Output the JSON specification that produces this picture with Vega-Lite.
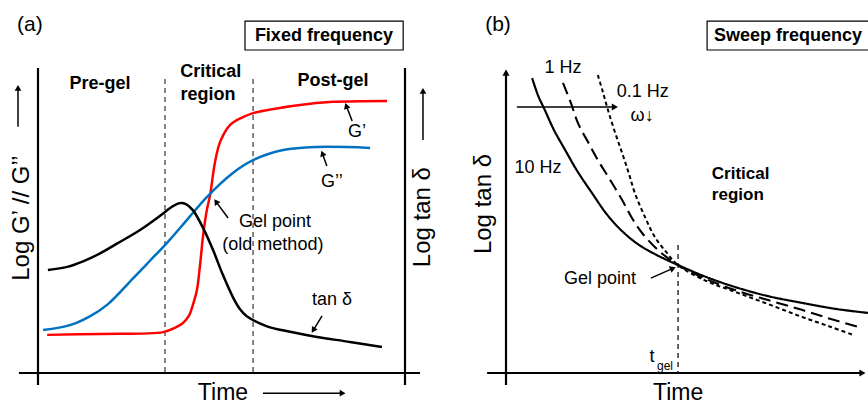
{
  "$schema": "https://vega.github.io/schema/vega-lite/v6.json",
  "padding": 0,
  "spacing": 0,
  "background": "white",
  "config": {"view": {"stroke": null}, "font": "Liberation Sans", "text": {"font": "Liberation Sans"}},
  "datasets": {
    "curvesA": [
      {"series": "G'", "t": 0.25, "v": 1.25}, {"series": "G'", "t": 1.69, "v": 1.28}, {"series": "G'", "t": 3.41, "v": 1.34},
      {"series": "G'", "t": 3.73, "v": 1.48}, {"series": "G'", "t": 3.95, "v": 1.64}, {"series": "G'", "t": 4.11, "v": 1.87},
      {"series": "G'", "t": 4.22, "v": 2.23}, {"series": "G'", "t": 4.33, "v": 2.72}, {"series": "G'", "t": 4.41, "v": 3.48},
      {"series": "G'", "t": 4.5, "v": 4.52}, {"series": "G'", "t": 4.6, "v": 5.34}, {"series": "G'", "t": 4.69, "v": 5.84},
      {"series": "G'", "t": 4.82, "v": 6.89}, {"series": "G'", "t": 4.96, "v": 7.57}, {"series": "G'", "t": 5.23, "v": 8.13},
      {"series": "G'", "t": 5.59, "v": 8.39}, {"series": "G'", "t": 5.86, "v": 8.52}, {"series": "G'", "t": 7.14, "v": 8.79},
      {"series": "G'", "t": 8.04, "v": 8.89}, {"series": "G'", "t": 9.51, "v": 8.92},
      {"series": "G''", "t": 0.14, "v": 1.41}, {"series": "G''", "t": 0.87, "v": 1.57}, {"series": "G''", "t": 1.4, "v": 1.85},
      {"series": "G''", "t": 1.9, "v": 2.25}, {"series": "G''", "t": 2.59, "v": 3.1}, {"series": "G''", "t": 3.05, "v": 3.68},
      {"series": "G''", "t": 3.51, "v": 4.26}, {"series": "G''", "t": 4.06, "v": 5.02}, {"series": "G''", "t": 4.6, "v": 5.77},
      {"series": "G''", "t": 5.31, "v": 6.56}, {"series": "G''", "t": 5.86, "v": 6.98}, {"series": "G''", "t": 6.68, "v": 7.31},
      {"series": "G''", "t": 7.6, "v": 7.41}, {"series": "G''", "t": 9.05, "v": 7.38},
      {"series": "tan", "t": 0.27, "v": 3.38}, {"series": "tan", "t": 0.8, "v": 3.48}, {"series": "tan", "t": 1.23, "v": 3.66},
      {"series": "tan", "t": 1.69, "v": 3.92}, {"series": "tan", "t": 2.15, "v": 4.24}, {"series": "tan", "t": 2.78, "v": 4.69},
      {"series": "tan", "t": 3.32, "v": 5.15}, {"series": "tan", "t": 3.65, "v": 5.45}, {"series": "tan", "t": 3.87, "v": 5.57},
      {"series": "tan", "t": 4.03, "v": 5.54}, {"series": "tan", "t": 4.22, "v": 5.34}, {"series": "tan", "t": 4.5, "v": 4.75},
      {"series": "tan", "t": 4.77, "v": 4.03}, {"series": "tan", "t": 5.04, "v": 3.21}, {"series": "tan", "t": 5.31, "v": 2.49},
      {"series": "tan", "t": 5.5, "v": 2.1}, {"series": "tan", "t": 5.69, "v": 1.86}, {"series": "tan", "t": 6.24, "v": 1.53},
      {"series": "tan", "t": 6.87, "v": 1.35}, {"series": "tan", "t": 7.6, "v": 1.18}, {"series": "tan", "t": 8.5, "v": 1.02},
      {"series": "tan", "t": 9.37, "v": 0.85}
    ],
    "curvesB": [
      {"series": "10 Hz", "t": 0.72, "v": 9.67}, {"series": "10 Hz", "t": 0.88, "v": 9.11}, {"series": "10 Hz", "t": 1.07, "v": 8.62},
      {"series": "10 Hz", "t": 1.32, "v": 7.97}, {"series": "10 Hz", "t": 1.63, "v": 7.31}, {"series": "10 Hz", "t": 1.98, "v": 6.59},
      {"series": "10 Hz", "t": 2.37, "v": 5.9}, {"series": "10 Hz", "t": 2.78, "v": 5.2}, {"series": "10 Hz", "t": 3.2, "v": 4.65},
      {"series": "10 Hz", "t": 3.64, "v": 4.22}, {"series": "10 Hz", "t": 4.1, "v": 3.9}, {"series": "10 Hz", "t": 4.74, "v": 3.54},
      {"series": "10 Hz", "t": 5.51, "v": 3.15}, {"series": "10 Hz", "t": 6.31, "v": 2.82}, {"series": "10 Hz", "t": 7.22, "v": 2.52},
      {"series": "10 Hz", "t": 8.15, "v": 2.3}, {"series": "10 Hz", "t": 9.09, "v": 2.1}, {"series": "10 Hz", "t": 9.97, "v": 1.97},
      {"series": "1 Hz", "t": 1.57, "v": 9.51}, {"series": "1 Hz", "t": 1.79, "v": 8.85}, {"series": "1 Hz", "t": 1.98, "v": 8.2},
      {"series": "1 Hz", "t": 2.26, "v": 7.57}, {"series": "1 Hz", "t": 2.53, "v": 6.98}, {"series": "1 Hz", "t": 2.87, "v": 6.33},
      {"series": "1 Hz", "t": 3.2, "v": 5.67}, {"series": "1 Hz", "t": 3.47, "v": 5.08}, {"series": "1 Hz", "t": 3.75, "v": 4.59},
      {"series": "1 Hz", "t": 4.19, "v": 4.03}, {"series": "1 Hz", "t": 4.74, "v": 3.54}, {"series": "1 Hz", "t": 5.51, "v": 3.08},
      {"series": "1 Hz", "t": 6.31, "v": 2.72}, {"series": "1 Hz", "t": 7.22, "v": 2.39}, {"series": "1 Hz", "t": 8.15, "v": 2.07},
      {"series": "1 Hz", "t": 8.95, "v": 1.77}, {"series": "1 Hz", "t": 9.7, "v": 1.51},
      {"series": "0.1 Hz", "t": 2.53, "v": 9.77}, {"series": "0.1 Hz", "t": 2.67, "v": 9.21}, {"series": "0.1 Hz", "t": 2.81, "v": 8.62},
      {"series": "0.1 Hz", "t": 3.0, "v": 7.9}, {"series": "0.1 Hz", "t": 3.2, "v": 7.21}, {"series": "0.1 Hz", "t": 3.39, "v": 6.52},
      {"series": "0.1 Hz", "t": 3.55, "v": 5.9}, {"series": "0.1 Hz", "t": 3.83, "v": 5.11}, {"series": "0.1 Hz", "t": 4.1, "v": 4.46},
      {"series": "0.1 Hz", "t": 4.41, "v": 3.97}, {"series": "0.1 Hz", "t": 4.74, "v": 3.54}, {"series": "0.1 Hz", "t": 5.51, "v": 3.02},
      {"series": "0.1 Hz", "t": 6.31, "v": 2.66}, {"series": "0.1 Hz", "t": 7.22, "v": 2.26}, {"series": "0.1 Hz", "t": 8.15, "v": 1.84},
      {"series": "0.1 Hz", "t": 8.95, "v": 1.51}, {"series": "0.1 Hz", "t": 9.56, "v": 1.25}
    ],
    "segA": [
      {"kind": "axis", "t": 0, "v": 10, "t2": 0, "v2": -0.39},
      {"kind": "axis", "t": 10, "v": 10, "t2": 10, "v2": -0.39},
      {"kind": "axis", "t": -0.52, "v": 0, "t2": 10.41, "v2": 0},
      {"kind": "dash", "t": 3.46, "v": 9.64, "t2": 3.46, "v2": 0},
      {"kind": "dash", "t": 5.86, "v": 9.64, "t2": 5.86, "v2": 0}
    ],
    "arrowsA": [
      {"name": "G'", "t": 8.56, "v": 8.26, "t2": 8.4, "v2": 8.76, "heading": -19},
      {"name": "G''", "t": 7.87, "v": 6.79, "t2": 7.75, "v2": 7.2, "heading": -20},
      {"name": "gel", "t": 5.18, "v": 5.08, "t2": 4.85, "v2": 5.62, "heading": -35},
      {"name": "tan", "t": 7.74, "v": 1.87, "t2": 7.5, "v2": 1.4, "heading": 212},
      {"name": "time", "t": 6.13, "v": -0.66, "t2": 8.3, "v2": -0.66, "heading": 90},
      {"name": "left", "t": -0.545, "v": 8.07, "t2": -0.545, "v2": 9.35, "heading": 0},
      {"name": "right", "t": 10.49, "v": 7.64, "t2": 10.49, "v2": 9.25, "heading": 0}
    ],
    "boxA": [{"t": 5.64, "v": 11.54, "t2": 9.95, "v2": 10.59}],
    "textA": [
      {"kind": "panel", "label": "(a)", "t": -0.22, "v": 11.41},
      {"kind": "bold", "label": "Fixed frequency", "t": 7.79, "v": 11.05},
      {"kind": "bold", "label": "Pre-gel", "t": 1.69, "v": 9.48},
      {"kind": "bold", "label": "Critical", "t": 4.71, "v": 9.87},
      {"kind": "bold", "label": "region", "t": 4.63, "v": 9.11},
      {"kind": "bold", "label": "Post-gel", "t": 8.04, "v": 9.57},
      {"kind": "note", "label": "G’", "t": 8.69, "v": 7.9},
      {"kind": "note", "label": "G’’", "t": 8.01, "v": 6.26},
      {"kind": "note", "label": "Gel point", "t": 6.46, "v": 4.95},
      {"kind": "note", "label": "(old method)", "t": 6.4, "v": 4.2},
      {"kind": "note", "label": "tan δ", "t": 8.01, "v": 2.39},
      {"kind": "axis", "label": "Time", "t": 5.04, "v": -0.87},
      {"kind": "ylabel", "label": "Log G’ // G’’", "t": -0.44, "v": 5.08},
      {"kind": "ylabel", "label": "Log tan δ", "t": 10.49, "v": 5.11}
    ],
    "segB": [
      {"kind": "dash", "t": 4.74, "v": 4.2, "t2": 4.74, "v2": 0}
    ],
    "arrowsB": [
      {"name": "yaxis", "t": 0, "v": -0.39, "t2": 0, "v2": 9.85, "heading": 0, "w": "axis"},
      {"name": "xaxis", "t": -0.52, "v": 0, "t2": 9.82, "v2": 0, "heading": 90, "w": "axis"},
      {"name": "omega", "t": 0.3, "v": 8.72, "t2": 3.0, "v2": 8.72, "heading": 90, "w": "note"},
      {"name": "gel", "t": 3.99, "v": 3.11, "t2": 4.6, "v2": 3.43, "heading": 67, "w": "note"}
    ],
    "boxB": [{"t": 5.54, "v": 11.54, "t2": 10.1, "v2": 10.59}],
    "textB": [
      {"kind": "panel", "label": "(b)", "t": -0.22, "v": 11.41},
      {"kind": "bold", "label": "Sweep frequency", "t": 7.77, "v": 11.05},
      {"kind": "ylabel", "label": "Log tan δ", "t": -0.61, "v": 5.54},
      {"kind": "note", "label": "1 Hz", "t": 1.57, "v": 10.0},
      {"kind": "note", "label": "0.1 Hz", "t": 3.77, "v": 9.21},
      {"kind": "note", "label": "ω↓", "t": 3.75, "v": 8.43},
      {"kind": "note", "label": "10 Hz", "t": 0.88, "v": 6.72},
      {"kind": "note", "label": "Gel point", "t": 2.59, "v": 3.08},
      {"kind": "note", "label": "t", "t": 4.02, "v": 0.52},
      {"kind": "sub", "label": "gel", "t": 4.38, "v": 0.23},
      {"kind": "axis", "label": "Time", "t": 4.74, "v": -0.87},
      {"kind": "boldleft", "label": "Critical", "t": 5.67, "v": 6.52},
      {"kind": "boldleft", "label": "region", "t": 5.67, "v": 5.84}
    ]
  },
  "hconcat": [
    {
      "width": 434,
      "height": 403,
      "layer": [
        {
          "data": {"name": "boxA"},
          "mark": {"type": "rect", "fill": "white", "stroke": "black", "strokeWidth": 1.2},
          "encoding": {
            "x": {"field": "t", "type": "quantitative", "scale": {"domain": [0, 10], "range": [38, 405], "nice": false, "zero": false}, "axis": null},
            "x2": {"field": "t2"},
            "y": {"field": "v", "type": "quantitative", "scale": {"domain": [0, 10], "range": [373, 68], "nice": false, "zero": false}, "axis": null},
            "y2": {"field": "v2"}
          }
        },
        {
          "data": {"name": "segA"},
          "transform": [{"filter": "datum.kind == 'axis'"}],
          "mark": {"type": "rule", "color": "black", "strokeWidth": 2.2},
          "encoding": {
            "x": {"field": "t", "type": "quantitative", "scale": {"domain": [0, 10], "range": [38, 405], "nice": false, "zero": false}, "axis": null},
            "x2": {"field": "t2"},
            "y": {"field": "v", "type": "quantitative", "scale": {"domain": [0, 10], "range": [373, 68], "nice": false, "zero": false}, "axis": null},
            "y2": {"field": "v2"}
          }
        },
        {
          "data": {"name": "segA"},
          "transform": [{"filter": "datum.kind == 'dash'"}],
          "mark": {"type": "rule", "color": "#444444", "strokeWidth": 1.3, "strokeDash": [5, 4]},
          "encoding": {
            "x": {"field": "t", "type": "quantitative"},
            "x2": {"field": "t2"},
            "y": {"field": "v", "type": "quantitative"},
            "y2": {"field": "v2"}
          }
        },
        {
          "data": {"name": "curvesA"},
          "mark": {"type": "line", "strokeWidth": 2.5, "interpolate": "catmull-rom"},
          "encoding": {
            "x": {"field": "t", "type": "quantitative"},
            "y": {"field": "v", "type": "quantitative"},
            "color": {"field": "series", "type": "nominal", "scale": {"domain": ["tan", "G''", "G'"], "range": ["#000000", "#0070C0", "#FF0000"]}, "legend": null},
            "order": {"field": "t", "type": "quantitative"}
          }
        },
        {
          "data": {"name": "arrowsA"},
          "mark": {"type": "rule", "color": "black", "strokeWidth": 1.5},
          "encoding": {
            "x": {"field": "t", "type": "quantitative"},
            "x2": {"field": "t2"},
            "y": {"field": "v", "type": "quantitative"},
            "y2": {"field": "v2"}
          }
        },
        {
          "data": {"name": "arrowsA"},
          "mark": {"type": "point", "shape": "triangle-up", "filled": true, "color": "black", "size": 45, "opacity": 1},
          "encoding": {
            "x": {"field": "t2", "type": "quantitative"},
            "y": {"field": "v2", "type": "quantitative"},
            "angle": {"field": "heading", "type": "quantitative", "scale": null}
          }
        },
        {
          "data": {"name": "textA"},
          "transform": [{"filter": "datum.kind == 'panel'"}],
          "mark": {"type": "text", "fontSize": 21, "align": "center", "baseline": "middle", "color": "black"},
          "encoding": {"x": {"field": "t", "type": "quantitative"}, "y": {"field": "v", "type": "quantitative"}, "text": {"field": "label"}}
        },
        {
          "data": {"name": "textA"},
          "transform": [{"filter": "datum.kind == 'bold'"}],
          "mark": {"type": "text", "fontSize": 18, "fontWeight": "bold", "align": "center", "baseline": "middle", "color": "black"},
          "encoding": {"x": {"field": "t", "type": "quantitative"}, "y": {"field": "v", "type": "quantitative"}, "text": {"field": "label"}}
        },
        {
          "data": {"name": "textA"},
          "transform": [{"filter": "datum.kind == 'note'"}],
          "mark": {"type": "text", "fontSize": 18, "align": "center", "baseline": "middle", "color": "black"},
          "encoding": {"x": {"field": "t", "type": "quantitative"}, "y": {"field": "v", "type": "quantitative"}, "text": {"field": "label"}}
        },
        {
          "data": {"name": "textA"},
          "transform": [{"filter": "datum.kind == 'axis'"}],
          "mark": {"type": "text", "fontSize": 23, "align": "center", "baseline": "alphabetic", "color": "black"},
          "encoding": {"x": {"field": "t", "type": "quantitative"}, "y": {"field": "v", "type": "quantitative"}, "text": {"field": "label"}}
        },
        {
          "data": {"name": "textA"},
          "transform": [{"filter": "datum.kind == 'ylabel'"}],
          "mark": {"type": "text", "fontSize": 24, "angle": 270, "align": "center", "baseline": "middle", "color": "black"},
          "encoding": {"x": {"field": "t", "type": "quantitative"}, "y": {"field": "v", "type": "quantitative"}, "text": {"field": "label"}}
        }
      ]
    },
    {
      "width": 434,
      "height": 403,
      "layer": [
        {
          "data": {"name": "boxB"},
          "mark": {"type": "rect", "fill": "white", "stroke": "black", "strokeWidth": 1.2},
          "encoding": {
            "x": {"field": "t", "type": "quantitative", "scale": {"domain": [0, 10], "range": [71, 434], "nice": false, "zero": false}, "axis": null},
            "x2": {"field": "t2"},
            "y": {"field": "v", "type": "quantitative", "scale": {"domain": [0, 10], "range": [373, 68], "nice": false, "zero": false}, "axis": null},
            "y2": {"field": "v2"}
          }
        },
        {
          "data": {"name": "segB"},
          "mark": {"type": "rule", "color": "#222222", "strokeWidth": 1.4, "strokeDash": [5, 4]},
          "encoding": {
            "x": {"field": "t", "type": "quantitative"},
            "x2": {"field": "t2"},
            "y": {"field": "v", "type": "quantitative"},
            "y2": {"field": "v2"}
          }
        },
        {
          "data": {"name": "curvesB"},
          "mark": {"type": "line", "color": "black", "interpolate": "catmull-rom"},
          "encoding": {
            "x": {"field": "t", "type": "quantitative"},
            "y": {"field": "v", "type": "quantitative"},
            "detail": {"field": "series", "type": "nominal"},
            "strokeDash": {"field": "series", "type": "nominal", "scale": {"domain": ["10 Hz", "1 Hz", "0.1 Hz"], "range": [[1, 0], [12, 6], [4, 3]]}, "legend": null},
            "strokeWidth": {"field": "series", "type": "nominal", "scale": {"domain": ["10 Hz", "1 Hz", "0.1 Hz"], "range": [2.2, 2, 1.8]}, "legend": null},
            "order": {"field": "t", "type": "quantitative"}
          }
        },
        {
          "data": {"name": "arrowsB"},
          "transform": [{"filter": "datum.w == 'axis'"}],
          "mark": {"type": "rule", "color": "black", "strokeWidth": 2.2},
          "encoding": {
            "x": {"field": "t", "type": "quantitative"},
            "x2": {"field": "t2"},
            "y": {"field": "v", "type": "quantitative"},
            "y2": {"field": "v2"}
          }
        },
        {
          "data": {"name": "arrowsB"},
          "transform": [{"filter": "datum.w == 'note'"}],
          "mark": {"type": "rule", "color": "black", "strokeWidth": 1.5},
          "encoding": {
            "x": {"field": "t", "type": "quantitative"},
            "x2": {"field": "t2"},
            "y": {"field": "v", "type": "quantitative"},
            "y2": {"field": "v2"}
          }
        },
        {
          "data": {"name": "arrowsB"},
          "mark": {"type": "point", "shape": "triangle-up", "filled": true, "color": "black", "size": 50, "opacity": 1},
          "encoding": {
            "x": {"field": "t2", "type": "quantitative"},
            "y": {"field": "v2", "type": "quantitative"},
            "angle": {"field": "heading", "type": "quantitative", "scale": null}
          }
        },
        {
          "data": {"name": "textB"},
          "transform": [{"filter": "datum.kind == 'panel'"}],
          "mark": {"type": "text", "fontSize": 21, "align": "center", "baseline": "middle", "color": "black"},
          "encoding": {"x": {"field": "t", "type": "quantitative"}, "y": {"field": "v", "type": "quantitative"}, "text": {"field": "label"}}
        },
        {
          "data": {"name": "textB"},
          "transform": [{"filter": "datum.kind == 'bold'"}],
          "mark": {"type": "text", "fontSize": 18, "fontWeight": "bold", "align": "center", "baseline": "middle", "color": "black"},
          "encoding": {"x": {"field": "t", "type": "quantitative"}, "y": {"field": "v", "type": "quantitative"}, "text": {"field": "label"}}
        },
        {
          "data": {"name": "textB"},
          "transform": [{"filter": "datum.kind == 'boldleft'"}],
          "mark": {"type": "text", "fontSize": 17, "fontWeight": "bold", "align": "left", "baseline": "middle", "color": "black"},
          "encoding": {"x": {"field": "t", "type": "quantitative"}, "y": {"field": "v", "type": "quantitative"}, "text": {"field": "label"}}
        },
        {
          "data": {"name": "textB"},
          "transform": [{"filter": "datum.kind == 'note'"}],
          "mark": {"type": "text", "fontSize": 18, "align": "center", "baseline": "middle", "color": "black"},
          "encoding": {"x": {"field": "t", "type": "quantitative"}, "y": {"field": "v", "type": "quantitative"}, "text": {"field": "label"}}
        },
        {
          "data": {"name": "textB"},
          "transform": [{"filter": "datum.kind == 'sub'"}],
          "mark": {"type": "text", "fontSize": 12, "align": "center", "baseline": "middle", "color": "black"},
          "encoding": {"x": {"field": "t", "type": "quantitative"}, "y": {"field": "v", "type": "quantitative"}, "text": {"field": "label"}}
        },
        {
          "data": {"name": "textB"},
          "transform": [{"filter": "datum.kind == 'axis'"}],
          "mark": {"type": "text", "fontSize": 23, "align": "center", "baseline": "alphabetic", "color": "black"},
          "encoding": {"x": {"field": "t", "type": "quantitative"}, "y": {"field": "v", "type": "quantitative"}, "text": {"field": "label"}}
        },
        {
          "data": {"name": "textB"},
          "transform": [{"filter": "datum.kind == 'ylabel'"}],
          "mark": {"type": "text", "fontSize": 24, "angle": 270, "align": "center", "baseline": "middle", "color": "black"},
          "encoding": {"x": {"field": "t", "type": "quantitative"}, "y": {"field": "v", "type": "quantitative"}, "text": {"field": "label"}}
        }
      ]
    }
  ]
}
